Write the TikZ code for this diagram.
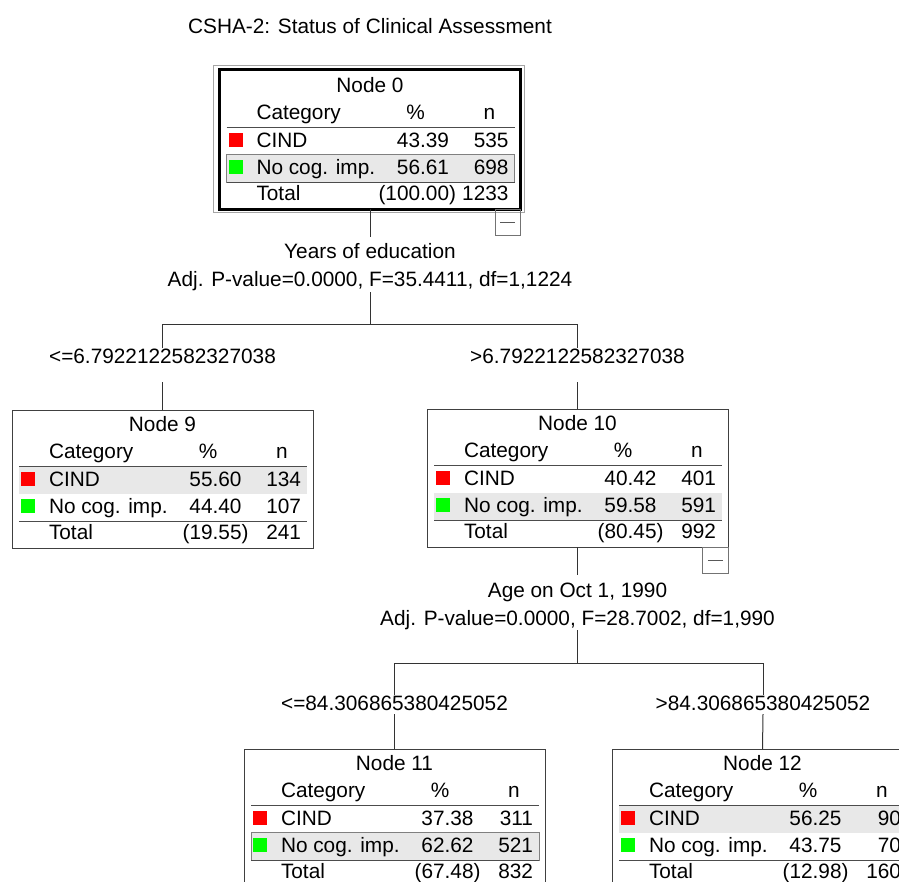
\documentclass[tikz,border=0pt]{standalone}
\usepackage{fontspec}
\setmainfont{Liberation Sans}
\definecolor{cindred}{RGB}{255,0,0}
\definecolor{nocoggreen}{RGB}{0,255,0}
\tikzset{
  every node/.style={font=\fontsize{20.8}{28}\selectfont, inner sep=0pt, outer sep=0pt},
  frame/.style={draw=black!75, line width=1pt, outer sep=0pt, inner sep=0pt,
    minimum width=301pt, minimum height=138pt},
  rule/.style={draw=black!70, line width=1pt},
  band/.style={fill=black!9},
  bandedge/.style={fill=black!9, draw=black!50, line width=0.8pt},
  swatch/.style={minimum size=14pt, inner sep=0pt, outer sep=0pt},
  link/.style={draw=black!80, line width=1pt},
  ring/.style={draw=black!35, line width=0.7pt},
  minusbox/.style={draw=black!55, line width=0.8pt, minimum width=25.5pt,
    minimum height=26pt, inner sep=0pt, outer sep=0pt},
  split/.style={align=center},
}
% tree node frame: [frame options]{name}{left}{top}{title}{highlighted row}{band style}
\newcommand{\ctnode}[7][]{%
  \ifnum#6=1
    \path[#7] (#3+7,#4+56.5) rectangle (#3+295,#4+83.5);
  \else
    \path[#7] (#3+7,#4+83.5) rectangle (#3+295,#4+111);
  \fi
  \node[frame, anchor=north west, #1] (#2) at (#3,#4) {};
  \node[anchor=base] (#2-title) at (#3+150.5,#4+21.5) {#5};
  \node[anchor=base west] (#2-cat) at (#3+37,#4+48) {Category};
  \node[anchor=base] (#2-pcth) at (#3+196,#4+48) {\%};
  \node[anchor=base] (#2-nh) at (#3+270,#4+48) {n};
  \draw[rule] (#3+7,#4+56) -- (#3+295,#4+56);
  \draw[rule] (#3+7,#4+111) -- (#3+295,#4+111);
}
% category rows: {name}{left}{top}{cind %}{cind n}{nocog %}{nocog n}{total %}{total n}
\newcommand{\ctrows}[9]{%
  \node[swatch, fill=cindred, anchor=south west] (#1-sq1) at (#2+9,#3+76) {};
  \node[anchor=base west] (#1-c1) at (#2+37,#3+76) {CIND};
  \node[anchor=base east] (#1-p1) at (#2+229.5,#3+76) {#4};
  \node[anchor=base east] (#1-n1) at (#2+289,#3+76) {#5};
  \node[swatch, fill=nocoggreen, anchor=south west] (#1-sq2) at (#2+9,#3+103) {};
  \node[anchor=base west] (#1-c2) at (#2+37,#3+103) {No cog. imp.};
  \node[anchor=base east] (#1-p2) at (#2+229.5,#3+103) {#6};
  \node[anchor=base east] (#1-n2) at (#2+289,#3+103) {#7};
  \node[anchor=base west] (#1-c3) at (#2+37,#3+129) {Total};
  \node[anchor=base east] (#1-p3) at (#2+236.5,#3+129) {(#8)};
  \node[anchor=base east] (#1-n3) at (#2+289,#3+129) {#9};
}
% collapse button under a node's lower right corner
\newcommand{\collapse}[1]{%
  \node[minusbox, anchor=north east] (#1-minus) at (#1.south east) {};
  \draw[black!65, line width=1pt] ([xshift=-7.5pt]#1-minus.center) -- ([xshift=7.5pt]#1-minus.center);
}
\begin{document}
\begin{tikzpicture}[x=1pt,y=-1pt]
\useasboundingbox (0,0) rectangle (899,881);
\clip (0,0) rectangle (899,881);
\fill[white] (0,0) rectangle (899,881);

\node[anchor=base] (title) at (370,33) {CSHA-2: Status of Clinical Assessment};

% root node (selected)
\ctnode[line width=3pt, draw=black, minimum height=139.5pt, yshift=1.5pt]{n0}{219.5}{71}{Node 0}{2}{bandedge}
\ctrows{n0}{219.5}{71}{43.39}{535}{56.61}{698}{100.00}{1233}
\draw[ring] ([xshift=-6pt,yshift=4.5pt]n0.north west) rectangle ([xshift=4pt,yshift=-3pt]n0.south east);
\collapse{n0}

% first split (base anchor sits on the last line)
\node[split, anchor=base] (s0) at (370,286) {Years of education\\Adj. P-value=0.0000, F=35.4411, df=1,1224};
\coordinate (f0) at (370,324);
\node[anchor=base] (e9) at (162.5,363) {<=6.7922122582327038};
\node[anchor=base] (e10) at (577.5,363) {>6.7922122582327038};

\ctnode{n9}{12}{410}{Node 9}{1}{band}
\ctrows{n9}{12}{410}{55.60}{134}{44.40}{107}{19.55}{241}

\ctnode{n10}{427}{409}{Node 10}{2}{band}
\ctrows{n10}{427}{409}{40.42}{401}{59.58}{591}{80.45}{992}
\collapse{n10}

% second split
\node[split, anchor=base] (s1) at (577.5,625) {Age on Oct 1, 1990\\Adj. P-value=0.0000, F=28.7002, df=1,990};
\coordinate (f1) at (577.5,663);
\node[anchor=base] (e11) at (394.5,710) {<=84.306865380425052};
\node[anchor=base] (e12) at (763,710) {>84.306865380425052};

\ctnode{n11}{244}{749}{Node 11}{2}{bandedge}
\ctrows{n11}{244}{749}{37.38}{311}{62.62}{521}{67.48}{832}

\ctnode{n12}{612}{749}{Node 12}{1}{band}
\ctrows{n12}{612}{749}{56.25}{90}{43.75}{70}{12.98}{160}

% connectors
\draw[link] (n0.south) -- ([yshift=6pt]s0.north);
\draw[link] ([yshift=-2pt]s0.south) -- (f0);
\draw[link] (e9.north) -- (e9.north |- f0) -- (e10.north |- f0) -- (e10.north);
\draw[link] ([yshift=-19pt]e9.south) -- (n9.north);
\draw[link] ([yshift=-19pt]e10.south) -- (n10.north);

\draw[link] (n10.south) -- ([yshift=7pt]s1.north);
\draw[link] ([yshift=-1pt]s1.south) -- (f1);
\draw[link] (e11.north) -- (e11.north |- f1) -- (e12.north |- f1) -- (e12.north);
\draw[link] ([yshift=-4pt]e11.south) -- (n11.north);
\draw[link] ([yshift=-4pt]e12.south) -- (n12.north);
\end{tikzpicture}
\end{document}
